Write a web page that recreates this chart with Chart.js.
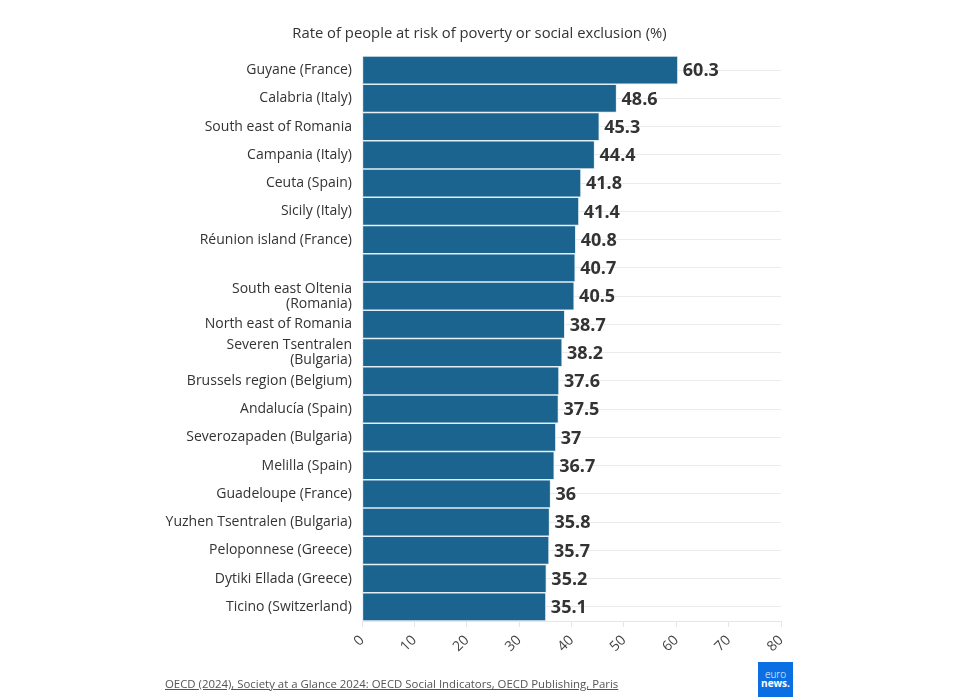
<!DOCTYPE html>
<html>
<head>
<meta charset="utf-8">
<script src="https://cdn.jsdelivr.net/npm/chart.js@4/dist/chart.umd.min.js"></script>
<style>
html,body{margin:0;padding:0;background:#fff;}
#wrap{position:relative;width:965px;height:700px;overflow:hidden;font-family:"Open Sans",sans-serif;}
#c{position:absolute;left:0;top:0;}
#title{position:absolute;left:0;width:959px;top:22px;text-align:center;font-size:14.8px;color:#333;}
#src{position:absolute;left:165px;top:676px;font-size:11.4px;color:#555;text-decoration:underline;}
#logo{position:absolute;left:758px;top:662px;width:35px;height:35px;background:#0b6fe3;color:#fff;font-size:10px;line-height:9px;text-align:center;}
#logo .a{display:block;margin-top:8px;font-weight:300;}
#logo .b{display:block;font-weight:700;}
</style>
</head>
<body>
<div id="wrap">
<canvas id="c" width="965" height="700"></canvas>
<div id="title">Rate of people at risk of poverty or social exclusion (%)</div>
<div id="src">OECD (2024), Society at a Glance 2024: OECD Social Indicators, OECD Publishing, Paris</div>
<div id="logo"><span class="a">euro</span><span class="b">news.</span></div>
</div>
<script>
const regions = [
  "Guyane (France)",
  "Calabria (Italy)",
  "South east of Romania",
  "Campania (Italy)",
  "Ceuta (Spain)",
  "Sicily (Italy)",
  "Réunion island (France)",
  "",
  ["South east Oltenia", "(Romania)"],
  "North east of Romania",
  ["Severen Tsentralen", "(Bulgaria)"],
  "Brussels region (Belgium)",
  "Andalucía (Spain)",
  "Severozapaden (Bulgaria)",
  "Melilla (Spain)",
  "Guadeloupe (France)",
  "Yuzhen Tsentralen (Bulgaria)",
  "Peloponnese (Greece)",
  "Dytiki Ellada (Greece)",
  "Ticino (Switzerland)"
];
const rates = [60.3, 48.6, 45.3, 44.4, 41.8, 41.4, 40.8, 40.7, 40.5, 38.7, 38.2, 37.6, 37.5, 37, 36.7, 36, 35.8, 35.7, 35.2, 35.1];
const xTicks = [0, 10, 20, 30, 40, 50, 60, 70, 80];

const valueLabels = {
  id: 'valueLabels',
  afterDatasetsDraw(chart) {
    const ctx = chart.ctx;
    const meta = chart.getDatasetMeta(0);
    ctx.save();
    ctx.font = 'bold 18px "Open Sans", sans-serif';
    ctx.fillStyle = '#333';
    ctx.textAlign = 'left';
    ctx.textBaseline = 'middle';
    meta.data.forEach((bar, i) => {
      ctx.fillText(String(rates[i]), bar.x + 5, bar.y + 1);
    });
    ctx.restore();
  }
};

new Chart(document.getElementById('c'), {
  type: 'bar',
  data: {
    labels: regions,
    datasets: [{
      data: rates,
      backgroundColor: '#1c6490',
      borderColor: '#e3eef5',
      borderWidth: 1,
      borderSkipped: false,
      barPercentage: 1,
      categoryPercentage: 1
    }]
  },
  options: {
    indexAxis: 'y',
    responsive: false,
    animation: false,
    devicePixelRatio: 1,
    layout: { padding: { top: 56, right: 184, bottom: 29, left: 0 } },
    plugins: { legend: { display: false }, tooltip: { enabled: false }, title: { display: false } },
    scales: {
      x: {
        min: 0, max: 80,
        afterFit(scale) { scale.height = 50; },
        afterBuildTicks(scale) { scale.ticks = xTicks.map(v => ({ value: v })); },
        grid: { drawOnChartArea: false, drawTicks: true, tickLength: 6, color: '#e6e6e6' },
        border: { display: true, color: '#e6e6e6' },
        ticks: {
          minRotation: 45, maxRotation: 45, padding: 5,
          color: '#444',
          font: { family: '"Open Sans", sans-serif', size: 14 }
        }
      },
      y: {
        afterFit(scale) { scale.width = 362; },
        grid: { offset: false, drawTicks: false, color: '#ebebeb' },
        border: { display: false },
        ticks: {
          padding: 10,
          color: '#333',
          autoSkip: false,
          font: { family: '"Open Sans", sans-serif', size: 14, lineHeight: 1.08 }
        }
      }
    }
  },
  plugins: [valueLabels]
});
</script>
</body>
</html>
